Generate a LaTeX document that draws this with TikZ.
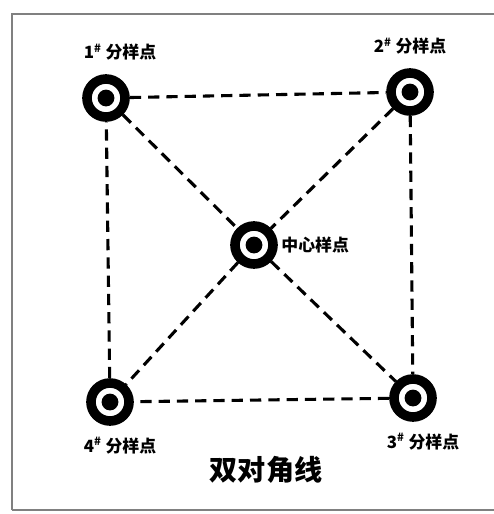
\documentclass[tikz,border=0pt]{standalone}
\usepackage{fontspec}
\usepackage{tikz}
\usetikzlibrary{positioning}
\newfontfamily\cjk{Noto Sans CJK SC}

\tikzset{
	samplept/.style={circle, draw=black, fill=white, line width=0.24cm, minimum size=0.95cm, inner sep=0pt,
		path picture={\fill[black] (path picture bounding box.center) circle (0.21cm);}},
	ptlabel/.style={font=\cjk\bfseries\fontsize{12}{14}\selectfont, inner sep=1pt},
	link/.style={dashed, line width=2.2pt, dash pattern=on 8pt off 5pt}
}

\begin{document}
\begin{tikzpicture}[x=0.025cm, y=-0.025cm]
	\useasboundingbox (0,0) rectangle (494,514);
	\draw[gray, line width=1.2pt] (12,510) -- (12,14) -- (494,14);
	\draw[gray, line width=1.2pt] (12,510) -- (494,510);
	% sampling points
	\node[samplept] (p1) at (106,98) {};
	\node[samplept] (p2) at (410,92) {};
	\node[samplept] (pc) at (254,245) {};
	\node[samplept] (p4) at (110,402) {};
	\node[samplept] (p3) at (413,398) {};
	% labels
	\node[ptlabel, above=0.3cm of p1, xshift=0.35cm] (l1) {1\textsuperscript{\#} 分样点};
	\node[ptlabel, above=0.3cm of p2] (l2) {2\textsuperscript{\#} 分样点};
	\node[ptlabel, right=0.05cm of pc] (lc) {中心样点};
	\node[ptlabel, below=0.25cm of p4, xshift=0.25cm] (l4) {4\textsuperscript{\#} 分样点};
	\node[ptlabel, below=0.25cm of p3, xshift=0.25cm] (l3) {3\textsuperscript{\#} 分样点};
	\node[font=\cjk\bfseries\fontsize{20}{24}\selectfont] (title) at (266,470) {双对角线};
	% dashed links
	\draw[link] (p1) -- (p2);
	\draw[link] (p2) -- (p3);
	\draw[link] (p3) -- (p4);
	\draw[link] (p4) -- (p1);
	\draw[link] (p1) -- (pc);
	\draw[link] (pc) -- (p3);
	\draw[link] (p2) -- (pc);
	\draw[link] (pc) -- (p4);
\end{tikzpicture}
\end{document}
